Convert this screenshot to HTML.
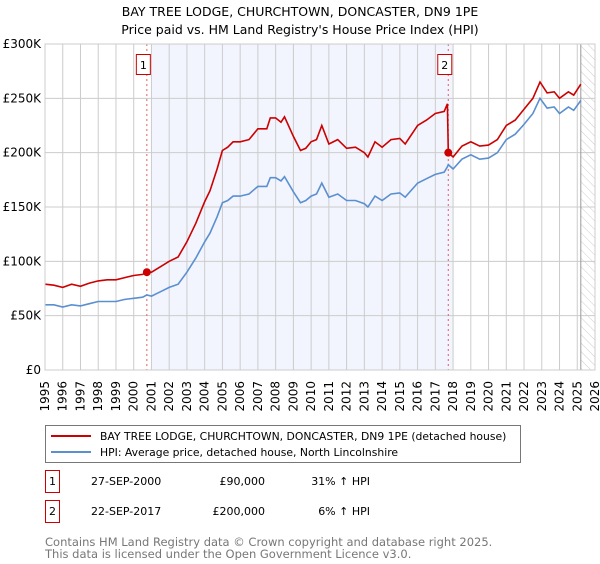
<!DOCTYPE html>
<html><head><meta charset="utf-8"><style>
body{margin:0;background:#fff;font-family:"DejaVu Sans","Liberation Sans",sans-serif;}
svg text{font-family:"DejaVu Sans","Liberation Sans",sans-serif;}
</style></head><body>
<svg id="chart" width="600" height="560" xmlns="http://www.w3.org/2000/svg">
<defs><pattern id="hatch" width="6" height="6" patternUnits="userSpaceOnUse" patternTransform="rotate(-45)"><line x1="0" y1="0" x2="0" y2="6" stroke="#ccc" stroke-width="1"/></pattern></defs>
<text x="300" y="16" text-anchor="middle" font-size="12.5">BAY TREE LODGE, CHURCHTOWN, DONCASTER, DN9 1PE</text>
<text x="300" y="34" text-anchor="middle" font-size="12.5">Price paid vs. HM Land Registry's House Price Index (HPI)</text>
<g id="plot"></g>
<g>
<rect x="45.5" y="425.5" width="475" height="37" fill="#fff" stroke="#777"/>
<line x1="51" y1="436" x2="91" y2="436" stroke="#cc0000" stroke-width="2"/>
<text x="100" y="440" font-size="10.8">BAY TREE LODGE, CHURCHTOWN, DONCASTER, DN9 1PE (detached house)</text>
<line x1="51" y1="452" x2="91" y2="452" stroke="#5b8fd0" stroke-width="2"/>
<text x="100" y="456" font-size="10.8">HPI: Average price, detached house, North Lincolnshire</text>
</g>
<g font-size="11">
<rect x="45.5" y="470.5" width="14" height="22" fill="#fff" stroke="#cc0000"/>
<text x="52.5" y="485" text-anchor="middle">1</text>
<text x="91" y="485">27-SEP-2000</text>
<text x="265" y="485" text-anchor="end">£90,000</text>
<text x="370" y="485" text-anchor="end">31% ↑ HPI</text>
<rect x="45.5" y="500.5" width="14" height="22" fill="#fff" stroke="#cc0000"/>
<text x="52.5" y="515" text-anchor="middle">2</text>
<text x="91" y="515">22-SEP-2017</text>
<text x="265" y="515" text-anchor="end">£200,000</text>
<text x="370" y="515" text-anchor="end">6% ↑ HPI</text>
</g>
<text x="45" y="546" font-size="11.5" fill="#777">Contains HM Land Registry data © Crown copyright and database right 2025.</text>
<text x="45" y="558" font-size="11.5" fill="#777">This data is licensed under the Open Government Licence v3.0.</text>
</svg>
<script>
const yTicks=[0,50,100,150,200,250,300];
const yTickLabels=["£0","£50K","£100K","£150K","£200K","£250K","£300K"];
const years=[1995,1996,1997,1998,1999,2000,2001,2002,2003,2004,2005,2006,2007,2008,2009,2010,2011,2012,2013,2014,2015,2016,2017,2018,2019,2020,2021,2022,2023,2024,2025,2026];
const saleDates=[2000.74,2017.73];
const saleValues=[90,200];
const saleLabels=["1","2"];
const redDates=[1995.0,1995.5,1996.0,1996.5,1997.0,1997.5,1998.0,1998.5,1999.0,1999.5,2000.0,2000.5,2000.74,2001.0,2001.5,2002.0,2002.5,2003.0,2003.5,2004.0,2004.3,2004.7,2005.0,2005.3,2005.6,2006.0,2006.5,2007.0,2007.5,2007.7,2008.0,2008.3,2008.5,2009.0,2009.4,2009.7,2010.0,2010.3,2010.6,2011.0,2011.5,2012.0,2012.5,2013.0,2013.2,2013.6,2014.0,2014.5,2015.0,2015.3,2016.0,2016.5,2017.0,2017.5,2017.68,2017.73,2018.0,2018.5,2019.0,2019.5,2020.0,2020.5,2021.0,2021.5,2022.0,2022.5,2022.9,2023.3,2023.7,2024.0,2024.5,2024.8,2025.2];
const redValues=[79,78,76,79,77,80,82,83,83,85,87,88,90,90,95,100,104,118,135,155,165,185,202,205,210,210,212,222,222,232,232,228,233,215,202,204,210,212,225,208,212,204,205,200,196,210,205,212,213,208,225,230,236,238,245,200,196,206,210,206,207,212,225,230,240,250,265,255,256,250,256,253,263];
const hpiDates=redDates;
const hpiValues=[60,60,58,60,59,61,63,63,63,65,66,67,69,68,72,76,79,90,103,118,126,141,154,156,160,160,162,169,169,177,177,174,178,164,154,156,160,162,172,159,162,156,156,153,150,160,156,162,163,159,172,176,180,182,187,189,185,194,198,194,195,200,212,217,226,236,250,241,242,236,242,239,248];
const X0=45,X1=595,Y0=370,Y1=44,xMin=1995,xMax=2026,yMax=300;
const xs=v=>X0+(v-xMin)/(xMax-xMin)*(X1-X0);
const ys=v=>Y0-v/yMax*(Y0-Y1);
const NS="http://www.w3.org/2000/svg";
const g=document.getElementById('plot');
function mk(t,a,p){const e=document.createElementNS(NS,t);for(const k in a)e.setAttribute(k,a[k]);(p||g).appendChild(e);return e;}
let e;
e=mk('rect',{x:xs(saleDates[0])+5,y:Y1,width:xs(saleDates[1])-xs(saleDates[0]),height:Y0-Y1,fill:'#f2f5fd'});


e=mk('rect',{x:xs(2025.2),y:Y1,width:X1-xs(2025.2),height:Y0-Y1,fill:'url(#hatch)'});


years.forEach(y=>{e=mk('line',{x1:xs(y),x2:xs(y),y1:Y1,y2:Y0,stroke:'#ccc'});


e=mk('text',{x:xs(y)+4,y:381,'font-size':12,'text-anchor':'end',transform:`rotate(-90 ${xs(y)+4} 381)`});e.textContent=y;

});
yTicks.forEach((t,i)=>{e=mk('line',{x1:X0,x2:X1,y1:ys(t),y2:ys(t),stroke:'#ccc'});


e=mk('text',{x:X0-4,y:ys(t)+4,'font-size':12,'text-anchor':'end'});e.textContent=yTickLabels[i];

});
e=mk('line',{x1:xs(2025.2),x2:xs(2025.2),y1:Y1,y2:Y0,stroke:'#999'});


saleDates.forEach((d,i)=>{e=mk('line',{x1:xs(d),x2:xs(d),y1:Y1,y2:Y0,stroke:'#e06060','stroke-dasharray':'2,3'});

});
const pts=(D,V)=>D.map((d,i)=>xs(d).toFixed(1)+','+ys(V[i]).toFixed(1)).join(' ');
e=mk('polyline',{points:pts(hpiDates,hpiValues),fill:'none',stroke:'#5b8fd0','stroke-width':1.6});


e=mk('polyline',{points:pts(redDates,redValues),fill:'none',stroke:'#cc0000','stroke-width':1.6});


saleDates.forEach((d,i)=>{e=mk('circle',{cx:xs(d),cy:ys(saleValues[i]),r:4,fill:'#cc0000'});


const bx=xs(d)-10;
e=mk('rect',{x:bx-0.5,y:54.5,width:14,height:20,fill:'#fff',stroke:'#cc0000'});


e=mk('text',{x:bx+6.5,y:69,'font-size':11,'text-anchor':'middle'});e.textContent=saleLabels[i];

});
e=mk('rect',{x:X0,y:Y1,width:X1-X0,height:Y0-Y1,fill:'none',stroke:'#ccc'});


</script>
</body></html>
